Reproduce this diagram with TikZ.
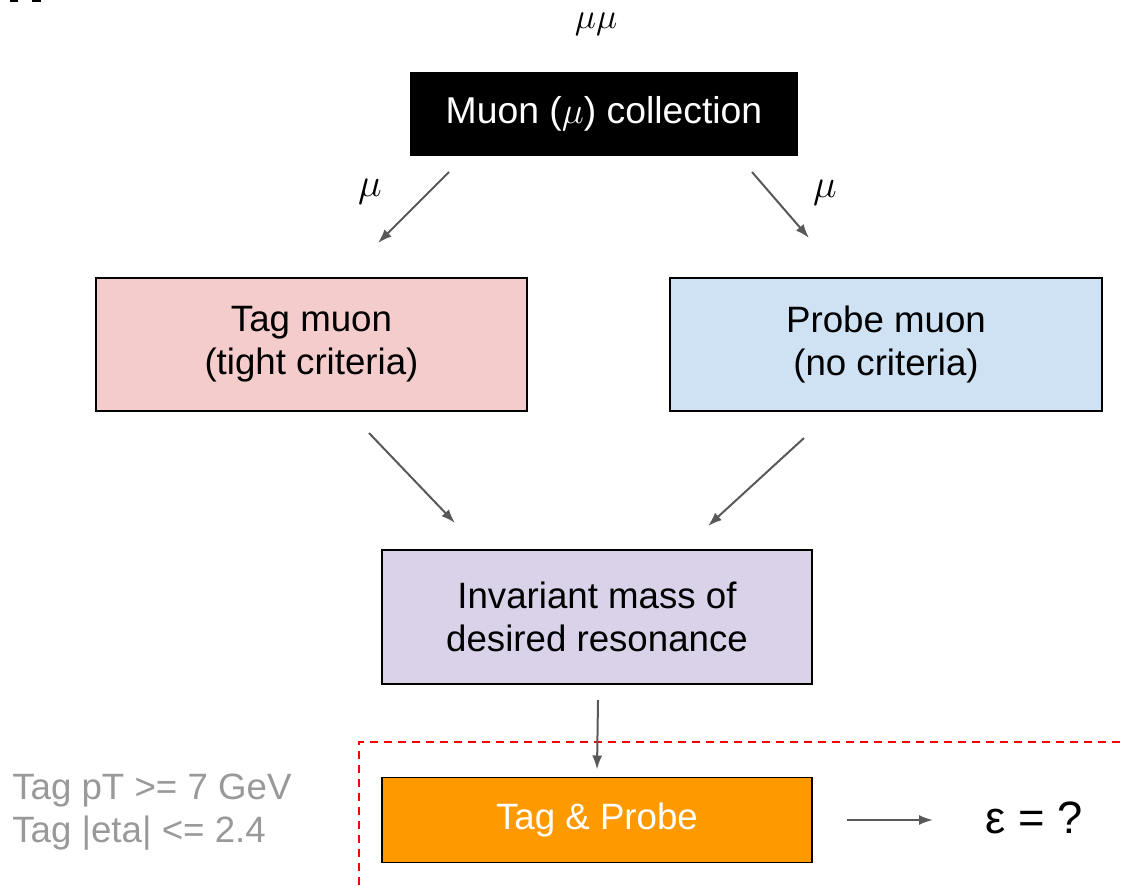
\RequirePackage{fix-cm}
\documentclass[tikz,border=0pt]{standalone}
\usepackage{fontspec}
\setmainfont{Liberation Sans}
\usetikzlibrary{arrows.meta}
\definecolor{tagfill}{HTML}{F4CCCC}
\definecolor{probefill}{HTML}{CFE2F3}
\definecolor{massfill}{HTML}{D9D2E9}
\definecolor{tpfill}{HTML}{FF9900}
\definecolor{arrowgray}{HTML}{595959}
\definecolor{notegray}{HTML}{999999}
\definecolor{cutred}{HTML}{FF0000}
\tikzset{
  stagebox/.style={draw=black, line width=1.1pt, rectangle, align=center,
    inner sep=0pt, outer sep=0pt, font=\fontsize{27.5}{32}\selectfont},
  flow/.style={draw=arrowgray, line width=1.5pt,
    -{Latex[length=10.5pt,width=7.5pt]}},
  mulabel/.style={inner sep=0pt, font=\fontsize{30}{36}\selectfont},
}
\begin{document}
\begin{tikzpicture}[x=0.75pt, y=-0.75pt]
  \useasboundingbox (0,0) rectangle (1124,885);

  % remnants of a clipped heading at the top edge
  \fill[black] (10,0) rectangle (18,2);
  \fill[black] (32,0) rectangle (41,2);

  % boxes
  \node[stagebox, fill=black, text=white, minimum width=289.5pt, minimum height=61.5pt,
    font=\fontsize{28}{32}\selectfont]
    (muon) at (604,114) {Muon ($\mu$) collection};
  \node[stagebox, fill=tagfill, minimum width=323.25pt, minimum height=99.75pt]
    (tag) at (311.5,344.5) {Tag muon\\(tight criteria)};
  \node[stagebox, fill=probefill, minimum width=324pt, minimum height=99.75pt]
    (probe) at (886,344.5) {Probe muon\\(no criteria)};
  \node[stagebox, fill=massfill, minimum width=322.5pt, minimum height=100.5pt]
    (mass) at (597,617) {Invariant mass of\\desired resonance};
  \node[stagebox, fill=tpfill, text=white, minimum width=322.5pt, minimum height=63.75pt]
    (tp) at (597,820) {Tag \& Probe};

  % labels
  \node[mulabel, font=\fontsize{27}{32}\selectfont] (mumu) at (596,24) {$\mu\mu$};
  \node[mulabel] (muleft) at (370,192) {$\mu$};
  \node[mulabel] (muright) at (825,193) {$\mu$};
  \node[inner sep=0pt, anchor=west, font=\fontsize{34}{38}\selectfont]
    (eff) at (985,818) {ε = ?};
  \node[inner sep=0pt, anchor=west, align=left, text=notegray,
    font=\fontsize{27.5}{32}\selectfont]
    (cuts) at (12,812) {Tag pT >= 7 GeV\\Tag |eta| <= 2.4};

  % selection region
  \draw[cutred, line width=1.5pt, dash pattern=on 6.2pt off 4.3pt]
    (359,885) -- (359,742) -- (1124,742);

  % flow arrows
  \draw[flow] ([shift={(-155,17)}]muon.south) -- ([shift={(66.5,-35)}]tag.north);
  \draw[flow] ([shift={(148,17)}]muon.south) -- ([shift={(-77,-40)}]probe.north);
  \draw[flow] ([shift={(57.5,22)}]tag.south) -- ([shift={(-142,-27)}]mass.north);
  \draw[flow] ([shift={(-82,27)}]probe.south) -- ([shift={(111,-24)}]mass.north);
  \draw[flow] ([shift={(1,16)}]mass.south) -- ([shift={(0,-8)}]tp.north);
  \draw[flow] ([shift={(35,0)}]tp.east) -- ([shift={(-52,2)}]eff.west);
\end{tikzpicture}
\end{document}
